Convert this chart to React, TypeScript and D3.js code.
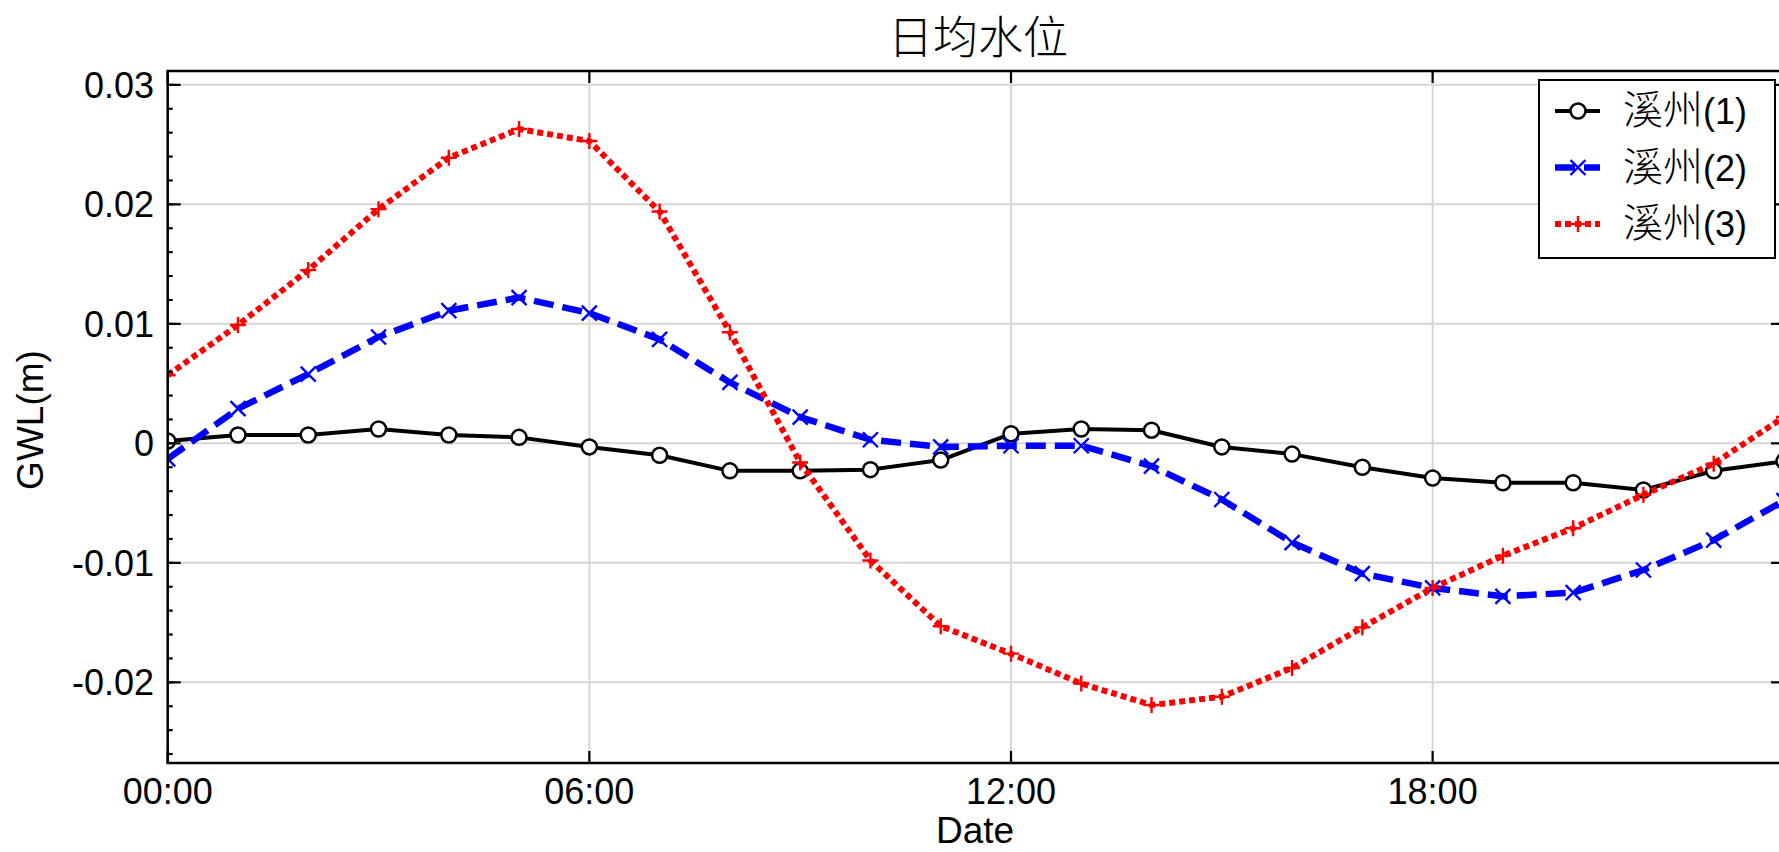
import { useEffect, useRef } from 'react';
import * as d3 from 'd3';

// hourly points, 00:00 .. 23:00
const hours = [0, 1, 2, 3, 4, 5, 6, 7, 8, 9, 10, 11, 12, 13, 14, 15, 16, 17, 18, 19, 20, 21, 22, 23];

const station1 = [
  0.0002, 0.0007, 0.0007, 0.0012, 0.0007, 0.0005, -0.0003, -0.001, -0.0023, -0.0023, -0.0022, -0.0014,
  0.0008, 0.0012, 0.0011, -0.0003, -0.0009, -0.002, -0.0029, -0.0033, -0.0033, -0.0039, -0.0023, -0.0015,
];
const station2 = [
  -0.0013, 0.0029, 0.0058, 0.0089, 0.0111, 0.0122, 0.0109, 0.0087, 0.0051, 0.0022, 0.0003, -0.0003,
  -0.0002, -0.0002, -0.0019, -0.0047, -0.0083, -0.0109, -0.0121, -0.0128, -0.0125, -0.0106, -0.0081, -0.0048,
];
const station3 = [
  0.0057, 0.0099, 0.0145, 0.0196, 0.0239, 0.0263, 0.0253, 0.0194, 0.0093, -0.0016, -0.0098, -0.0153,
  -0.0176, -0.0201, -0.0219, -0.0212, -0.0188, -0.0154, -0.0121, -0.0094, -0.0071, -0.0043, -0.0017, 0.0022,
];

const seriesNames = ['溪州', '溪州', '溪州'];
const seriesSuffix = ['(1)', '(2)', '(3)'];

const yTicks = [0.03, 0.02, 0.01, 0, -0.01, -0.02];
const yTickLabels = ['0.03', '0.02', '0.01', '0', '-0.01', '-0.02'];
const xTicks = [0, 6, 12, 18];
const xTickLabels = ['00:00', '06:00', '12:00', '18:00'];

const W = 1779;
const H = 852;
const FONT = "'Liberation Sans', Arial, 'Noto Sans CJK SC', sans-serif";
const CJK = "'Noto Sans CJK SC', sans-serif";

const App = () => {
  const svgRef = useRef<SVGSVGElement>(null);

  useEffect(() => {
    const svg = d3.select(svgRef.current);
    svg.selectAll('*').remove();

    const left = 167.7, right = 1784, top = 71, bottom = 763;

    const x = d3.scaleLinear().domain([0, 23]).range([left, right]);
    const y = d3.scaleLinear().domain([-0.02675, 0.03116]).range([bottom, top]);

    svg.append('rect').attr('width', W).attr('height', H).attr('fill', '#fff');

    // grid
    const grid = svg.append('g').attr('stroke', '#d6d6d6').attr('stroke-width', 2);
    yTicks.forEach(t => {
      grid.append('line').attr('x1', left).attr('x2', right).attr('y1', y(t)).attr('y2', y(t));
    });
    xTicks.forEach(t => {
      grid.append('line').attr('x1', x(t)).attr('x2', x(t)).attr('y1', top).attr('y2', bottom);
    });

    svg.append('defs').append('clipPath').attr('id', 'plotClip')
      .append('rect').attr('x', left).attr('y', top).attr('width', right - left).attr('height', bottom - top);

    const series = [
      { values: station1, color: '#000000', width: 4, dash: null, marker: 'o' },
      { values: station2, color: '#0000ff', width: 6.5, dash: '20,9', marker: 'x' },
      { values: station3, color: '#ff0000', width: 6, dash: '6,4', marker: '+' },
    ];

    const plot = svg.append('g').attr('clip-path', 'url(#plotClip)');
    const line = d3.line<number>().x((_, i) => x(hours[i])).y(d => y(d));

    const drawMarker = (g: any, type: string, cx: number, cy: number, color: string) => {
      if (type === 'o') {
        g.append('circle').attr('cx', cx).attr('cy', cy).attr('r', 7.5)
          .attr('fill', '#fff').attr('stroke', color).attr('stroke-width', 2.5);
      } else if (type === 'x') {
        const s = 7.5;
        g.append('path')
          .attr('d', `M${cx - s},${cy - s}L${cx + s},${cy + s}M${cx - s},${cy + s}L${cx + s},${cy - s}`)
          .attr('stroke', color).attr('stroke-width', 2.4).attr('fill', 'none');
      } else {
        const s = 8;
        g.append('path')
          .attr('d', `M${cx - s},${cy}L${cx + s},${cy}M${cx},${cy - s}L${cx},${cy + s}`)
          .attr('stroke', color).attr('stroke-width', 2.4).attr('fill', 'none');
      }
    };

    series.forEach(s => {
      plot.append('path')
        .attr('d', line(s.values))
        .attr('fill', 'none')
        .attr('stroke', s.color)
        .attr('stroke-width', s.width)
        .attr('stroke-dasharray', s.dash)
        .attr('stroke-linejoin', 'round');
      s.values.forEach((v, i) => drawMarker(plot, s.marker, x(hours[i]), y(v), s.color));
    });

    // frame
    const frame = svg.append('g').attr('stroke', '#000').attr('stroke-width', 2.5).attr('fill', 'none');
    frame.append('rect').attr('x', left).attr('y', top).attr('width', right - left).attr('height', bottom - top);

    // ticks (inward)
    const ticks = svg.append('g').attr('stroke', '#000').attr('stroke-width', 2.2);
    const minor = d3.range(-0.026, 0.0311, 0.002);
    minor.forEach(t => {
      ticks.append('line').attr('x1', left).attr('x2', left + 5).attr('y1', y(t)).attr('y2', y(t));
      ticks.append('line').attr('x1', right).attr('x2', right - 5).attr('y1', y(t)).attr('y2', y(t));
    });
    yTicks.forEach(t => {
      ticks.append('line').attr('x1', left).attr('x2', left + 13).attr('y1', y(t)).attr('y2', y(t));
      ticks.append('line').attr('x1', right).attr('x2', right - 13).attr('y1', y(t)).attr('y2', y(t));
    });
    xTicks.forEach(t => {
      ticks.append('line').attr('x1', x(t)).attr('x2', x(t)).attr('y1', bottom).attr('y2', bottom - 12);
      ticks.append('line').attr('x1', x(t)).attr('x2', x(t)).attr('y1', top).attr('y2', top + 12);
    });

    // tick labels
    yTicks.forEach((t, i) => {
      svg.append('text')
        .attr('x', 154).attr('y', y(t) + 13)
        .attr('text-anchor', 'end')
        .style('font-family', FONT).style('font-size', '36px')
        .text(yTickLabels[i]);
    });
    xTicks.forEach((t, i) => {
      svg.append('text')
        .attr('x', x(t)).attr('y', 804)
        .attr('text-anchor', 'middle')
        .style('font-family', FONT).style('font-size', '36px')
        .text(xTickLabels[i]);
    });

    // axis titles
    svg.append('text')
      .attr('x', 975).attr('y', 843)
      .attr('text-anchor', 'middle')
      .style('font-family', FONT).style('font-size', '37px')
      .text('Date');
    svg.append('text')
      .attr('transform', 'translate(43,420) rotate(-90)')
      .attr('text-anchor', 'middle')
      .style('font-family', FONT).style('font-size', '37px')
      .text('GWL(m)');

    // title
    svg.append('text')
      .attr('x', 978).attr('y', 54)
      .attr('text-anchor', 'middle')
      .style('font-family', CJK).style('font-size', '45px').style('font-weight', 300)
      .text('日均水位');

    // legend
    const lg = svg.append('g');
    lg.append('rect').attr('x', 1539).attr('y', 80).attr('width', 236).attr('height', 178)
      .attr('fill', '#fff').attr('stroke', '#000').attr('stroke-width', 2);
    const rowY = [111, 167.5, 224];
    series.forEach((s, i) => {
      lg.append('line').attr('x1', 1555).attr('x2', 1600).attr('y1', rowY[i]).attr('y2', rowY[i])
        .attr('stroke', s.color).attr('stroke-width', s.width).attr('stroke-dasharray', s.dash);
      drawMarker(lg, s.marker, 1578, rowY[i], s.color);
      const t = lg.append('text').attr('x', 1623).attr('y', rowY[i] + 13)
        .style('font-family', FONT);
      t.append('tspan').style('font-size', '40px').style('font-family', CJK).style('font-weight', 300).text(seriesNames[i]);
      t.append('tspan').style('font-size', '36px').text(seriesSuffix[i]);
    });
  }, []);

  return (
    <svg
      ref={svgRef}
      width={W}
      height={H}
      style={{ position: 'absolute', left: 0, top: 0, display: 'block' }}
    />
  );
};

export default App;
